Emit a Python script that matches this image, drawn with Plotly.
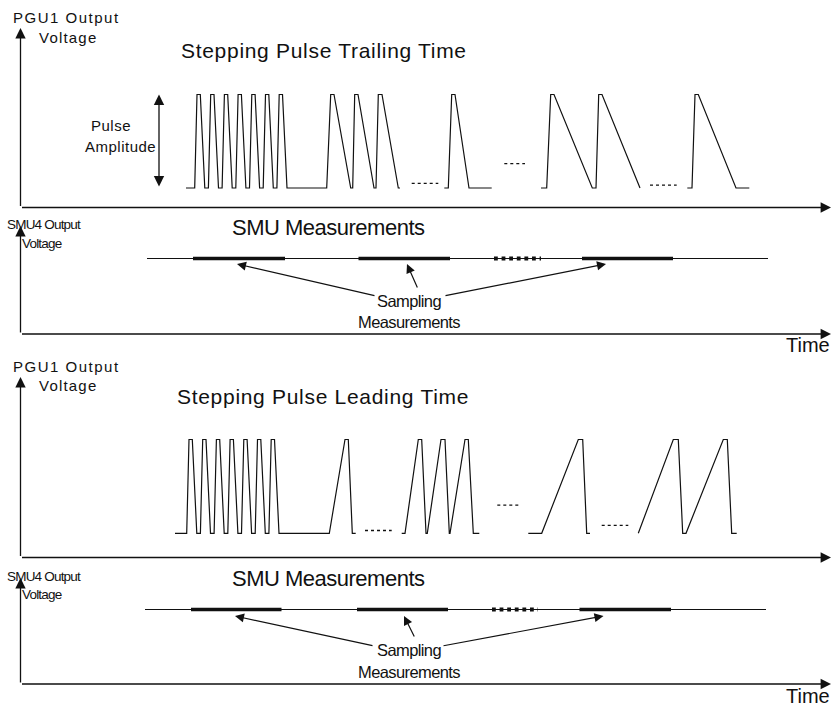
import plotly.graph_objects as go

W, H = 835, 709

# ---------------- data (time axis units, voltage in units of pulse amplitude) ----------------
# Panel 1: stepping pulse trailing time
trail_start = [194.7, 208.4, 222.1, 235.8, 249.5, 263.2, 276.9, 326.7, 352.7, 376.0, 448.3, 546.7, 596.0, 692.0]
trail_rise = [2.3, 2.3, 2.3, 2.3, 2.3, 2.3, 2.3, 4.0, 2.0, 2.3, 3.4, 4.0, 2.7, 3.0]
trail_top = [3.3, 3.3, 3.3, 3.3, 3.3, 3.3, 3.3, 3.3, 3.3, 3.7, 3.3, 3.3, 3.3, 3.3]
trail_fall = [4.5, 4.5, 4.5, 4.5, 4.5, 4.5, 4.5, 16.7, 16.0, 16.3, 14.0, 38.3, 38.0, 37.7]
trail_group = [0, 0, 0, 0, 0, 0, 0, 0, 0, 0, 1, 2, 2, 3]
trail_group_from = [186.0, 444.3, 541.0, 687.3]
trail_group_to = [400.0, 491.7, 640.0, 749.3]
trail_dots_from = [411.7, 504.3, 650.0]
trail_dots_to = [438.3, 525.0, 676.7]
trail_dots_level = [0.05, 0.26, 0.03]

# Panel 3: stepping pulse leading time
lead_start = [186.7, 200.4, 214.1, 227.8, 241.5, 255.2, 268.9, 329.3, 405.0, 427.3, 450.0, 541.7, 638.3, 686.0]
lead_rise = [2.3, 2.3, 2.3, 2.3, 2.3, 2.3, 2.3, 15.7, 13.3, 13.7, 15.0, 36.6, 35.0, 37.3]
lead_top = [3.3, 3.3, 3.3, 3.3, 3.3, 3.3, 3.3, 3.3, 3.4, 4.0, 3.3, 4.4, 5.0, 4.0]
lead_fall = [4.5, 4.5, 4.5, 4.5, 4.5, 4.5, 4.5, 4.0, 4.3, 4.3, 5.0, 4.0, 4.4, 4.4]
lead_group = [0, 0, 0, 0, 0, 0, 0, 0, 1, 1, 1, 2, 3, 3]
lead_group_from = [175.0, 401.7, 528.3, 638.3]
lead_group_to = [355.7, 479.3, 590.0, 736.7]
lead_dots_from = [365.0, 497.3, 601.7]
lead_dots_to = [391.7, 518.3, 628.3]
lead_dots_level = [0.03, 0.30, 0.085]

# SMU panels: constant output with sampling windows
smu1_line = [147.0, 768.0]
smu1_win_from = [193.0, 358.5, 582.0]
smu1_win_to = [285.0, 450.0, 673.0]
smu1_more = [494.0, 541.0]
smu1_arrow_target = [237.0, 407.0, 606.0]

smu2_line = [145.0, 766.0]
smu2_win_from = [191.0, 357.0, 579.5]
smu2_win_to = [281.5, 448.0, 671.0]
smu2_more = [492.0, 538.0]
smu2_arrow_target = [235.0, 404.0, 603.5]

# ---------------- layout helpers ----------------
INK = "#111111"
SANS = "Liberation Sans, Arial, sans-serif"


def yrange(p0, p1):
    """axis range so that value 0 sits at pixel row p0 and value 1 at pixel row p1"""
    k = p0 - p1
    top = p0 / k
    return [top - H / k, top]


def py(p):
    return 1 - p / H


def waveform(starts, rise, top, fall, group, gfrom, gto):
    xs, ys = [], []
    for g in range(len(gfrom)):
        xs.append(gfrom[g]); ys.append(0)
        for i, s in enumerate(starts):
            if group[i] != g:
                continue
            a = s + rise[i]
            b = a + top[i]
            c = b + fall[i]
            xs += [s, a, b, c]
            ys += [0, 1, 1, 0]
        xs.append(gto[g]); ys.append(0)
        xs.append(None); ys.append(None)
    return xs, ys


def dots(x0, x1, lv):
    xs, ys = [], []
    for a, b, l in zip(x0, x1, lv):
        xs += [a, b, None]
        ys += [l, l, None]
    return xs, ys


fig = go.Figure()

# PGU waveforms
for (st, ri, tp, fa, gr, gf, gt, dx0, dx1, dl, ax) in [
    (trail_start, trail_rise, trail_top, trail_fall, trail_group, trail_group_from, trail_group_to,
     trail_dots_from, trail_dots_to, trail_dots_level, "y"),
    (lead_start, lead_rise, lead_top, lead_fall, lead_group, lead_group_from, lead_group_to,
     lead_dots_from, lead_dots_to, lead_dots_level, "y3"),
]:
    xs, ys = waveform(st, ri, tp, fa, gr, gf, gt)
    fig.add_trace(go.Scatter(x=xs, y=ys, mode="lines", yaxis=ax,
                             line=dict(color=INK, width=1.2), hoverinfo="skip"))
    xs, ys = dots(dx0, dx1, dl)
    fig.add_trace(go.Scatter(x=xs, y=ys, mode="lines", yaxis=ax,
                             line=dict(color=INK, width=1.3, dash="dot"), hoverinfo="skip"))

# SMU lines
for (ln, wf, wt, more, ax) in [
    (smu1_line, smu1_win_from, smu1_win_to, smu1_more, "y2"),
    (smu2_line, smu2_win_from, smu2_win_to, smu2_more, "y4"),
]:
    fig.add_trace(go.Scatter(x=ln, y=[0, 0], mode="lines", yaxis=ax,
                             line=dict(color=INK, width=1.2), hoverinfo="skip"))
    xs, ys = dots(wf, wt, [0, 0, 0])
    fig.add_trace(go.Scatter(x=xs, y=ys, mode="lines", yaxis=ax,
                             line=dict(color=INK, width=3.6), hoverinfo="skip"))
    fig.add_trace(go.Scatter(x=more, y=[0, 0], mode="lines", yaxis=ax,
                             line=dict(color=INK, width=3.8, dash="dot"), hoverinfo="skip"))

ann = []


def text(x, y, s, size, xanchor="left", ls=None):
    if ls:
        s = f'<span style="letter-spacing:{ls}px">{s}</span>'
    ann.append(dict(x=x, y=py(y), xref="x", yref="paper", text=s, showarrow=False,
                    xanchor=xanchor, yanchor="middle", borderpad=0,
                    font=dict(family=SANS, size=size, color=INK)))


def arrow(x_tip, y_tip, x_tail, y_tail, width=1.3, size=1.6, head=2):
    ann.append(dict(x=x_tip, y=py(y_tip), xref="x", yref="paper", text="", showarrow=True,
                    ax=x_tail - x_tip, ay=y_tail - y_tip, axref="pixel", ayref="pixel",
                    arrowhead=head, arrowsize=size, arrowwidth=width, arrowcolor=INK,
                    standoff=0, startstandoff=0))


# ---- panel 1 (PGU, trailing)
text(12, 18, "PGU1 Output", 15, ls=1.5)
text(38, 37, "Voltage", 15, ls=1.2)
text(180, 50, "Stepping Pulse Trailing Time", 21, ls=0.7)
text(110.5, 126, "Pulse", 15, xanchor="center", ls=0.5)
text(157, 146, "Amplitude", 15, xanchor="right", ls=0.5)
arrow(20.5, 28, 20.5, 207.5)
arrow(831, 207.5, 20.5, 207.5)
ann.append(dict(x=159, y=1, xref="x", yref="y", ax=159, ay=0, axref="x", ayref="y",
                text="", showarrow=True, arrowhead=2, startarrowhead=2, arrowside="end+start",
                arrowsize=1.6, startarrowsize=1.6, arrowwidth=1.3, arrowcolor=INK,
                standoff=0, startstandoff=0))

# ---- panel 2 (SMU, trailing)
text(6, 225, "SMU4 Output", 13.5, ls=-0.8)
text(21, 243, "Voltage", 13.5, ls=-0.8)
text(231, 228, "SMU Measurements", 22, ls=-0.5)
arrow(20.5, 226, 20.5, 334)
arrow(831, 334, 20.5, 334)
text(831, 345, "Time", 20, xanchor="right")
text(409, 301, "Sampling", 16.5, xanchor="center", ls=-0.6)
text(409, 322, "Measurements", 16.5, xanchor="center", ls=-0.6)
for tx, tail in zip(smu1_arrow_target, [(376, 296), (418, 289), (444, 296)]):
    arrow(tx, 264, tail[0], tail[1], width=1.2, size=1.5)

# ---- panel 3 (PGU, leading)
text(12, 366, "PGU1 Output", 15, ls=1.5)
text(38, 385, "Voltage", 15, ls=1.2)
text(176, 396, "Stepping Pulse Leading Time", 21, ls=0.7)
arrow(20.5, 377, 20.5, 557.5)
arrow(831, 557.5, 20.5, 557.5)

# ---- panel 4 (SMU, leading)
text(6, 576, "SMU4 Output", 13.5, ls=-0.8)
text(21, 594, "Voltage", 13.5, ls=-0.8)
text(231, 578, "SMU Measurements", 22, ls=-0.5)
arrow(20.5, 578, 20.5, 684)
arrow(831, 684, 20.5, 684)
text(831, 696, "Time", 20, xanchor="right")
text(409, 650, "Sampling", 16.5, xanchor="center", ls=-0.6)
text(409, 672, "Measurements", 16.5, xanchor="center", ls=-0.6)
for tx, tail in zip(smu2_arrow_target, [(374, 646), (415, 638), (442, 646)]):
    arrow(tx, 616, tail[0], tail[1], width=1.2, size=1.5)

hidden = dict(visible=False, fixedrange=True)
fig.update_layout(
    width=W, height=H,
    margin=dict(l=0, r=0, t=0, b=0),
    paper_bgcolor="white", plot_bgcolor="white",
    showlegend=False,
    xaxis=dict(range=[0, W], domain=[0, 1], **hidden),
    yaxis=dict(range=yrange(188.0, 94.5), domain=[0, 1], **hidden),
    yaxis2=dict(range=yrange(258.5, 165.0), overlaying="y", **hidden),
    yaxis3=dict(range=yrange(533.3, 439.5), overlaying="y", **hidden),
    yaxis4=dict(range=yrange(609.5, 516.0), overlaying="y", **hidden),
    annotations=ann,
)

fig.write_html(
    "out.html",
    config={"displayModeBar": False, "staticPlot": True},
    post_script="document.body.style.margin='0';document.body.style.padding='0';"
                "document.body.style.overflow='hidden';",
)
